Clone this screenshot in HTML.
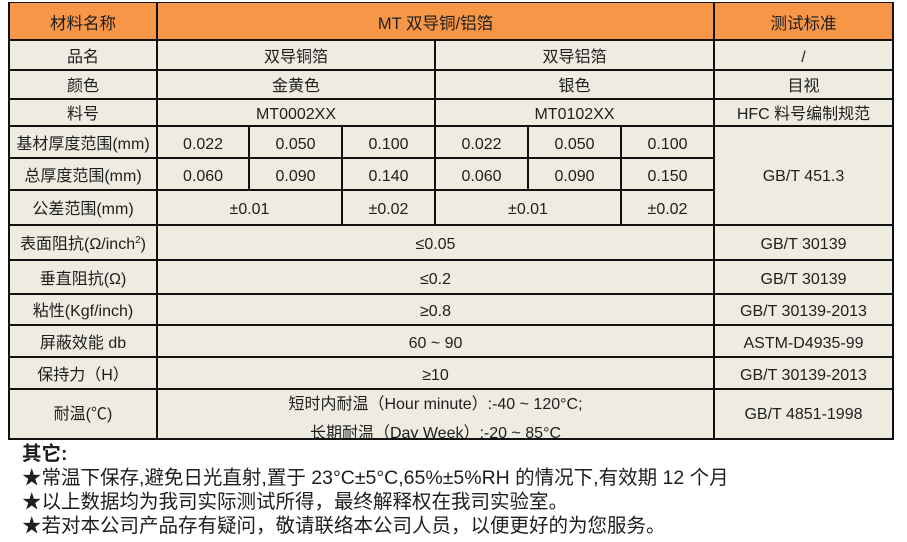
<!DOCTYPE html>
<html>
<head>
<meta charset="utf-8">
<style>
  html,body{margin:0;padding:0;background:#ffffff;}
  body{width:907px;height:542px;position:relative;overflow:hidden;
       font-family:"Liberation Sans","Noto Sans CJK SC",sans-serif;color:#1e1e1e;}
  .frame{position:absolute;left:8px;top:2px;width:886px;height:438px;background:#111;}
  .c{position:absolute;background:#eeebe1;display:flex;align-items:center;justify-content:center;
     font-size:16px;line-height:20px;white-space:nowrap;overflow:hidden;box-sizing:border-box;padding-top:5px;}
  .h{background:#f79646;font-size:16.5px;}
  .t{position:absolute;white-space:nowrap;font-size:19.5px;line-height:24px;color:#1e1e1e;}
  sup{font-size:10px;line-height:10px;vertical-align:top;position:relative;top:-4px;}
</style>
</head>
<body>
<div class="frame"></div>

<!-- header row 3-40 -->
<div class="c h" style="left:10px;top:3px;width:146px;height:36px;">材料名称</div>
<div class="c h" style="left:158px;top:3px;width:555px;height:36px;">MT 双导铜/铝箔</div>
<div class="c h" style="left:715px;top:3px;width:177px;height:36px;">测试标准</div>

<!-- row 40-70 -->
<div class="c" style="left:10px;top:41px;width:146px;height:28px;">品名</div>
<div class="c" style="left:158px;top:41px;width:276px;height:28px;">双导铜箔</div>
<div class="c" style="left:436px;top:41px;width:277px;height:28px;">双导铝箔</div>
<div class="c" style="left:715px;top:41px;width:177px;height:28px;">/</div>

<!-- row 70-99 -->
<div class="c" style="left:10px;top:71px;width:146px;height:27px;">颜色</div>
<div class="c" style="left:158px;top:71px;width:276px;height:27px;">金黄色</div>
<div class="c" style="left:436px;top:71px;width:277px;height:27px;">银色</div>
<div class="c" style="left:715px;top:71px;width:177px;height:27px;">目视</div>

<!-- row 99-126 -->
<div class="c" style="left:10px;top:100px;width:146px;height:25px;">料号</div>
<div class="c" style="left:158px;top:100px;width:276px;height:25px;">MT0002XX</div>
<div class="c" style="left:436px;top:100px;width:277px;height:25px;">MT0102XX</div>
<div class="c" style="left:715px;top:100px;width:177px;height:25px;">HFC 料号编制规范</div>

<!-- row 126-158 -->
<div class="c" style="left:10px;top:127px;width:146px;height:30px;">基材厚度范围(mm)</div>
<div class="c" style="left:158px;top:127px;width:90px;height:30px;">0.022</div>
<div class="c" style="left:250px;top:127px;width:91px;height:30px;">0.050</div>
<div class="c" style="left:343px;top:127px;width:91px;height:30px;">0.100</div>
<div class="c" style="left:436px;top:127px;width:91px;height:30px;">0.022</div>
<div class="c" style="left:529px;top:127px;width:91px;height:30px;">0.050</div>
<div class="c" style="left:622px;top:127px;width:91px;height:30px;">0.100</div>
<div class="c" style="left:715px;top:127px;width:177px;height:97px;padding-top:2px;">GB/T 451.3</div>

<!-- row 158-190 -->
<div class="c" style="left:10px;top:159px;width:146px;height:30px;">总厚度范围(mm)</div>
<div class="c" style="left:158px;top:159px;width:90px;height:30px;">0.060</div>
<div class="c" style="left:250px;top:159px;width:91px;height:30px;">0.090</div>
<div class="c" style="left:343px;top:159px;width:91px;height:30px;">0.140</div>
<div class="c" style="left:436px;top:159px;width:91px;height:30px;">0.060</div>
<div class="c" style="left:529px;top:159px;width:91px;height:30px;">0.090</div>
<div class="c" style="left:622px;top:159px;width:91px;height:30px;">0.150</div>

<!-- row 190-225 -->
<div class="c" style="left:10px;top:191px;width:146px;height:33px;">公差范围(mm)</div>
<div class="c" style="left:158px;top:191px;width:183px;height:33px;">±0.01</div>
<div class="c" style="left:343px;top:191px;width:91px;height:33px;">±0.02</div>
<div class="c" style="left:436px;top:191px;width:184px;height:33px;">±0.01</div>
<div class="c" style="left:622px;top:191px;width:91px;height:33px;">±0.02</div>

<!-- row 225-260 -->
<div class="c" style="left:10px;top:226px;width:146px;height:33px;">表面阻抗(Ω/inch<sup>2</sup>)</div>
<div class="c" style="left:158px;top:226px;width:555px;height:33px;">≤0.05</div>
<div class="c" style="left:715px;top:226px;width:177px;height:33px;">GB/T 30139</div>

<!-- row 260-294 -->
<div class="c" style="left:10px;top:261px;width:146px;height:32px;">垂直阻抗(Ω)</div>
<div class="c" style="left:158px;top:261px;width:555px;height:32px;">≤0.2</div>
<div class="c" style="left:715px;top:261px;width:177px;height:32px;">GB/T 30139</div>

<!-- row 294-325 -->
<div class="c" style="left:10px;top:295px;width:146px;height:29px;">粘性(Kgf/inch)</div>
<div class="c" style="left:158px;top:295px;width:555px;height:29px;">≥0.8</div>
<div class="c" style="left:715px;top:295px;width:177px;height:29px;">GB/T 30139-2013</div>

<!-- row 325-357 -->
<div class="c" style="left:10px;top:326px;width:146px;height:30px;">屏蔽效能 db</div>
<div class="c" style="left:158px;top:326px;width:555px;height:30px;">60 ~ 90</div>
<div class="c" style="left:715px;top:326px;width:177px;height:30px;">ASTM-D4935-99</div>

<!-- row 357-389 -->
<div class="c" style="left:10px;top:358px;width:146px;height:30px;">保持力（H）</div>
<div class="c" style="left:158px;top:358px;width:555px;height:30px;">≥10</div>
<div class="c" style="left:715px;top:358px;width:177px;height:30px;">GB/T 30139-2013</div>

<!-- row 389-439 -->
<div class="c" style="left:10px;top:390px;width:146px;height:48px;padding-top:2px;">耐温(℃)</div>
<div class="c" style="left:158px;top:390px;width:555px;height:48px;display:block;padding-top:0;">
  <div style="position:absolute;left:0;width:555px;top:3px;height:24px;line-height:24px;text-align:center;">短时内耐温（Hour minute）:-40 ~ 120°C;</div>
  <div style="position:absolute;left:0;width:555px;top:32px;height:24px;line-height:24px;text-align:center;">长期耐温（Day Week）:-20 ~ 85°C</div>
</div>
<div class="c" style="left:715px;top:390px;width:177px;height:48px;padding-top:2px;">GB/T 4851-1998</div>

<!-- footer notes -->
<div class="t" style="left:22px;top:442px;font-weight:bold;">其它:</div>
<div class="t" style="left:22px;top:466px;">★常温下保存,避免日光直射,置于 23°C±5°C,65%±5%RH 的情况下,有效期 12 个月</div>
<div class="t" style="left:22px;top:490px;">★以上数据均为我司实际测试所得，最终解释权在我司实验室。</div>
<div class="t" style="left:22px;top:514px;">★若对本公司产品存有疑问，敬请联络本公司人员，以便更好的为您服务。</div>
</body>
</html>
